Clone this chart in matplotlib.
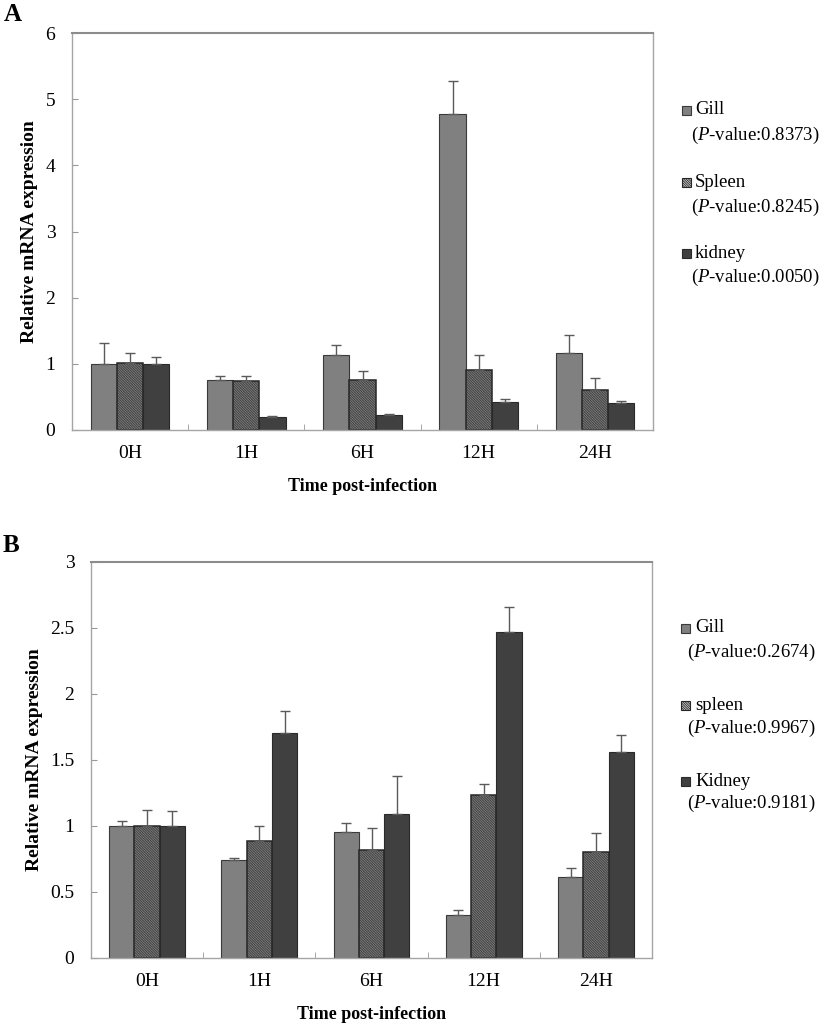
"""Relative mRNA expression in gill, spleen and kidney after infection (panels A and B)."""

import numpy as np
import matplotlib
import matplotlib.pyplot as plt
from matplotlib.patches import Rectangle

matplotlib.use('Agg')

plt.rcParams['font.family'] = ['Liberation Serif', 'DejaVu Serif']
plt.rcParams['mathtext.fontset'] = 'custom'
plt.rcParams['mathtext.rm'] = 'Liberation Serif'
plt.rcParams['mathtext.it'] = 'Liberation Serif:italic'
plt.rcParams['hatch.linewidth'] = 0.55

# ---- data ----
times = ['0H', '1H', '6H', '12H', '24H']

a_gill = [1.00, 0.75, 1.14, 4.78, 1.17]
a_gill_err = [0.31, 0.06, 0.15, 0.50, 0.26]
a_spleen = [1.01, 0.74, 0.76, 0.90, 0.60]
a_spleen_err = [0.15, 0.07, 0.13, 0.24, 0.18]
a_kidney = [1.00, 0.19, 0.23, 0.42, 0.41]
a_kidney_err = [0.11, 0.02, 0.01, 0.05, 0.03]
a_names = ['Gill', 'Spleen', 'kidney']
a_pvals = ['0.8373', '0.8245', '0.0050']

b_gill = [1.00, 0.745, 0.957, 0.326, 0.614]
b_gill_err = [0.035, 0.015, 0.063, 0.038, 0.07]
b_spleen = [1.00, 0.884, 0.818, 1.237, 0.80]
b_spleen_err = [0.12, 0.116, 0.17, 0.083, 0.15]
b_kidney = [1.00, 1.705, 1.09, 2.467, 1.56]
b_kidney_err = [0.11, 0.165, 0.29, 0.19, 0.13]
b_names = ['Gill', 'spleen', 'Kidney']
b_pvals = ['0.2674', '0.9967', '0.9181']

# bar styles: gill, spleen (hatched), kidney
styles = [
    dict(color='#808080', edgecolor='#3a3a3a', linewidth=0.8),
    dict(color='#c4c4c4', edgecolor='#262626', linewidth=1.1, hatch='\\' * 20),
    dict(color='#404040', edgecolor='#2a2a2a', linewidth=0.8),
]

W, H = 827, 1027
fig = plt.figure(figsize=(W / 100, H / 100), dpi=100)


def px_axes(left, top, right, bottom):
    return fig.add_axes([left / W, 1 - bottom / H, (right - left) / W, (bottom - top) / H])


def draw_panel(ax, series, errs, ymax, ystep, ylab_x):
    x = np.arange(len(times))
    bw = 0.225
    for i, (vals, err, st) in enumerate(zip(series, errs, styles)):
        pos = x + (i - 1) * bw
        ax.bar(pos, vals, width=bw, zorder=2, **st)
        ax.errorbar(pos, vals, yerr=[np.zeros(len(err)), err], fmt='none',
                    ecolor='#5a5a5a', elinewidth=1.0, capsize=3.5, capthick=1.0, zorder=3)
    ax.set_xlim(-0.5, len(times) - 0.5)
    ax.set_ylim(0, ymax)
    ax.set_yticks(np.arange(0, ymax + ystep / 2, ystep))
    ax.yaxis.set_major_formatter(matplotlib.ticker.FormatStrFormatter('%g'))
    ax.set_xticks(x)
    ax.set_xticklabels(times)
    ax.set_xticks(np.arange(0.5, len(times) - 1, 1.0), minor=True)
    ax.tick_params(axis='x', which='major', length=0, pad=11, labelsize=14)
    ax.tick_params(axis='x', which='minor', direction='in', length=4, color='#999999')
    ax.tick_params(axis='y', direction='in', length=4, color='#999999', pad=12, labelsize=14)
    for s in ax.spines.values():
        s.set_color('#a5a5a5')
        s.set_linewidth(1.0)
    ax.spines['top'].set_color('#8c8c8c')
    ax.spines['top'].set_linewidth(1.5)
    ax.set_ylabel('Relative mRNA expression', fontsize=14, fontweight='bold')
    ax.yaxis.set_label_coords(ylab_x, 0.5)
    ax.set_xlabel('Time post-infection', fontsize=13, fontweight='bold', labelpad=11)


def draw_key(names, pvals, rows):
    # rows: (marker_x, text_x, pval_x, name_y, pval_y) in pixels
    for st, name, p, (mx, tx, px, ny, py) in zip(styles, names, pvals, rows):
        fig.add_artist(Rectangle((mx / W, 1 - (ny + 4.5) / H), 9 / W, 9 / H,
                                 transform=fig.transFigure, facecolor=st['color'],
                                 edgecolor=st['edgecolor'], linewidth=0.8,
                                 hatch='\\' * 14 if 'hatch' in st else None))
        fig.text(tx / W, 1 - ny / H, name, fontsize=13.5, va='center', ha='left')
        fig.text(px / W, 1 - py / H, r'($\mathit{P}$-value:' + p + ')',
                 fontsize=13.5, va='center', ha='left')


# ---- panel A ----
ax_a = px_axes(72, 33, 653, 430)
draw_panel(ax_a, [a_gill, a_spleen, a_kidney], [a_gill_err, a_spleen_err, a_kidney_err],
           6, 1, -0.058)
draw_key(a_names, a_pvals, [(682, 695, 691, 110, 135),
                            (682, 695, 691, 182, 207),
                            (682, 695, 691, 254, 277)])
fig.text(13 / W, 1 - 14 / H, 'A', fontsize=18, fontweight='bold', ha='center', va='center')

# ---- panel B ----
ax_b = px_axes(91, 562, 652, 958)
draw_panel(ax_b, [b_gill, b_spleen, b_kidney], [b_gill_err, b_spleen_err, b_kidney_err],
           3, 0.5, -0.085)
draw_key(b_names, b_pvals, [(681, 695, 687, 628, 652),
                            (681, 695, 687, 705, 728),
                            (681, 695, 687, 781, 803)])
fig.text(11 / W, 1 - 545 / H, 'B', fontsize=18, fontweight='bold', ha='center', va='center')

fig.savefig('out.png', dpi=100)
